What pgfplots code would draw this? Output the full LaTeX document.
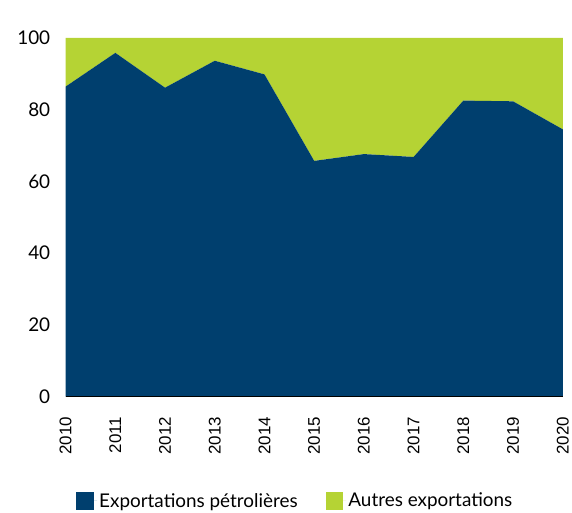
\documentclass[border=0pt]{standalone}
\usepackage{fontspec}
\setmainfont{Lato}
\newfontfamily\tickfont{Liberation Sans}
\usepackage{pgfplots}
\pgfplotsset{compat=1.18}
\definecolor{petro}{HTML}{003F6E}
\definecolor{autres}{HTML}{B5D334}
\begin{document}
\begin{tikzpicture}
\begin{axis}[
  at={(0pt,0pt)}, anchor=south west,
  scale only axis, width=500pt, height=361pt,
  xmin=2010, xmax=2020, ymin=0, ymax=100,
  stack plots=y,
  xtick={2010,...,2020}, ytick={0,20,...,100},
  /pgf/number format/assume math mode=true,
  x tick label style={/pgf/number format/1000 sep={}, rotate=90, anchor=east,
    font=\tickfont\fontsize{17}{17}\selectfont, inner xsep=20pt},
  y tick label style={font=\fontsize{19}{19}\selectfont, xshift=-12pt},
  major tick length=0pt,
  axis x line*=bottom, axis y line*=left,
  x axis line style={black, line width=1.2pt, -},
  y axis line style={draw=none},
  legend style={at={(0.462,-0.29)}, anchor=center, draw=none, fill=none,
    legend columns=2, font=\fontsize{19}{19}\selectfont,
    /tikz/every even column/.append style={column sep=26pt}},
  legend image code/.code={\fill[#1] (0pt,-9pt) rectangle (18pt,9pt); \path (0pt,0pt) -- (21pt,0pt);},
  axis on top
]
\addplot[fill=petro, draw=none] coordinates {
  (2010,86.4) (2011,95.8) (2012,86.1) (2013,93.6) (2014,89.8) (2015,65.7)
  (2016,67.6) (2017,66.8) (2018,82.5) (2019,82.3) (2020,74.5)} \closedcycle;
\addplot[fill=autres, draw=none] coordinates {
  (2010,13.6) (2011,4.2) (2012,13.9) (2013,6.4) (2014,10.2) (2015,34.3)
  (2016,32.4) (2017,33.2) (2018,17.5) (2019,17.7) (2020,25.5)} \closedcycle;
\legend{Exportations pétrolières, Autres exportations}
\end{axis}
\path (-66pt,-113pt) rectangle (506pt,399pt);
\end{tikzpicture}
\end{document}
